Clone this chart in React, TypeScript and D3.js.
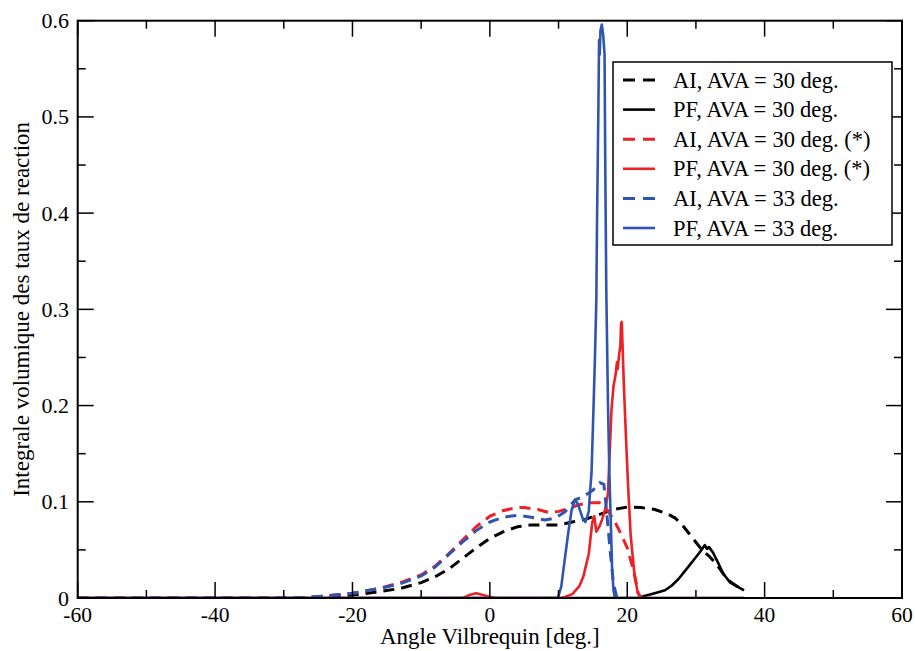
import React from "react";
import * as d3 from "d3";

type Pt = [number, number];

const xTicksMajor = [-60, -40, -20, 0, 20, 40, 60];
const xTicksMinor = [-50, -30, -10, 10, 30, 50];
const yTicksMajor = [0, 0.1, 0.2, 0.3, 0.4, 0.5, 0.6];
const yTicksMinor = [0.05, 0.15, 0.25, 0.35, 0.45, 0.55];
const yTickLabels = ["0", "0.1", "0.2", "0.3", "0.4", "0.5", "0.6"];

const aiAva30: Pt[] = [
  [-60, 0], [-30, 0], [-25, 0.001], [-20, 0.003], [-16, 0.0066], [-13, 0.010], [-10, 0.016],
  [-8, 0.022], [-6, 0.030], [-4, 0.041], [-2, 0.052], [0, 0.062], [2, 0.069], [4, 0.074],
  [6, 0.076], [8, 0.076], [10, 0.076], [12, 0.079], [14, 0.082], [16, 0.087], [18, 0.092],
  [20, 0.0945], [22, 0.094], [24, 0.092], [26, 0.087], [27, 0.083], [28, 0.076], [29, 0.067],
  [30, 0.058], [31, 0.049], [32, 0.043], [33, 0.035], [34, 0.025], [35, 0.017], [36, 0.012], [37, 0.009],
];

const pfAva30: Pt[] = [
  [-60, 0], [21.5, 0], [22.5, 0.002], [24, 0.005], [25.5, 0.008], [26.5, 0.013], [27.5, 0.020],
  [28.5, 0.029], [29.5, 0.038], [30.5, 0.047], [31, 0.052], [31.3, 0.055], [31.6, 0.051],
  [31.9, 0.053], [32.5, 0.047], [33.2, 0.037], [34, 0.025], [35, 0.016], [36, 0.012], [37, 0.008],
];

const aiAva30s: Pt[] = [
  [-60, 0], [-28, 0], [-24, 0.002], [-20, 0.005], [-16, 0.010], [-13, 0.016], [-10, 0.024],
  [-8, 0.033], [-6, 0.046], [-4, 0.060], [-2, 0.074], [0, 0.085], [2, 0.091], [4, 0.094],
  [5, 0.094], [7, 0.092], [8.5, 0.089], [10, 0.090], [11.5, 0.093], [13, 0.097], [14.5, 0.099],
  [16, 0.099], [17, 0.092], [18, 0.082], [19, 0.068], [20, 0.052], [20.9, 0.029], [21.6, 0.005], [22, 0],
];

const pfAva30s: Pt[] = [
  [-60, 0], [-4, 0], [-3, 0.003], [-2, 0.005], [-1, 0.003], [0, 0.001], [1, 0], [10.5, 0],
  [12, 0.004], [13, 0.012], [13.6, 0.022], [14.4, 0.046], [14.9, 0.078], [15.2, 0.085],
  [15.5, 0.069], [16, 0.075], [16.3, 0.081], [16.8, 0.092], [17.2, 0.109], [17.4, 0.143],
  [17.7, 0.195], [18.0, 0.22], [18.3, 0.232], [18.5, 0.245], [18.6, 0.238], [18.85, 0.255],
  [19.0, 0.262], [19.1, 0.285], [19.2, 0.287], [19.5, 0.223], [19.8, 0.17], [20.1, 0.12],
  [20.5, 0.065], [21.0, 0.028], [21.5, 0.006], [22, 0], [37, 0],
];

const aiAva33: Pt[] = [
  [-60, 0], [-28, 0], [-24, 0.002], [-20, 0.005], [-16, 0.010], [-13, 0.015], [-10, 0.023],
  [-8, 0.032], [-6, 0.045], [-4, 0.058], [-2, 0.070], [0, 0.079], [2, 0.084], [4, 0.086],
  [6, 0.084], [8, 0.081], [9.5, 0.083], [11, 0.090], [12.4, 0.102], [13.5, 0.105], [15, 0.112],
  [16, 0.120], [16.6, 0.118], [17, 0.09], [17.5, 0.05], [18, 0.015], [18.5, 0],
];

const pfAva33: Pt[] = [
  [-60, 0], [9.9, 0], [10.4, 0.012], [10.7, 0.029], [11.4, 0.067], [11.9, 0.0915], [12.4, 0.102],
  [12.8, 0.098], [13.1, 0.0915], [13.5, 0.083], [13.9, 0.079], [14.2, 0.085], [14.4, 0.09],
  [14.6, 0.112], [14.8, 0.13], [15.1, 0.2], [15.3, 0.25], [15.5, 0.31], [15.6, 0.39], [15.8, 0.51],
  [15.9, 0.58], [16.0, 0.565], [16.1, 0.59], [16.3, 0.596], [16.5, 0.585], [16.7, 0.565],
  [16.8, 0.45], [16.95, 0.32], [17.2, 0.2], [17.4, 0.13], [17.6, 0.08], [17.8, 0.03], [18.0, 0.008],
  [18.2, 0], [37, 0],
];

const seriesNames = [
  "AI, AVA = 30 deg.",
  "PF, AVA = 30 deg.",
  "AI, AVA = 30 deg. (*)",
  "PF, AVA = 30 deg. (*)",
  "AI, AVA = 33 deg.",
  "PF, AVA = 33 deg.",
];
const seriesData = [aiAva30, pfAva30, aiAva30s, pfAva30s, aiAva33, pfAva33];
const seriesColors = ["#000000", "#000000", "#ee1f25", "#ee1f25", "#2f55b0", "#2f55b0"];
const seriesDashed = [true, false, true, false, true, false];

const W = 915;
const H = 651;
const L = 77.7, R = 902, T = 20.7, B = 598;
const FONT = "'Liberation Serif', 'Times New Roman', serif";

export default function App() {
  const x = d3.scaleLinear().domain([-60, 60]).range([L, R]);
  const y = d3.scaleLinear().domain([0, 0.6]).range([B, T]);
  const line = d3.line<Pt>().x((d) => x(d[0])).y((d) => y(d[1]));

  const legX = 613, legY = 62, legW = 279, legH = 183;
  const rowY0 = 80, rowDy = 29.6;

  return (
    <svg width={W} height={H} style={{ position: "absolute", left: 0, top: 0, background: "#fff" }}
      fontFamily={FONT}>
      <rect x={0} y={0} width={W} height={H} fill="#fff" />
      <defs>
        <clipPath id="plot">
          <rect x={L} y={T - 2} width={R - L} height={B - T + 2} />
        </clipPath>
      </defs>
      <g clipPath="url(#plot)">
        {seriesData.map((d, i) => (
          <path key={i} d={line(d) || ""} fill="none" stroke={seriesColors[i]}
            strokeWidth={seriesDashed[i] ? 3 : 2.6}
            strokeDasharray={seriesDashed[i] ? "11,7" : undefined}
            strokeLinejoin="round" />
        ))}
      </g>
      {/* frame */}
      <rect x={L} y={T} width={R - L} height={B - T} fill="none" stroke="#000" strokeWidth={2} />
      {/* x ticks */}
      {xTicksMajor.map((t) => (
        <g key={"xm" + t}>
          <line x1={x(t)} x2={x(t)} y1={B} y2={B - 16} stroke="#000" strokeWidth={1.5} />
          <line x1={x(t)} x2={x(t)} y1={T} y2={T + 16} stroke="#000" strokeWidth={1.5} />
          <text x={x(t)} y={622} textAnchor="middle" fontSize={21.5} fill="#000">{t}</text>
        </g>
      ))}
      {xTicksMinor.map((t) => (
        <g key={"xn" + t}>
          <line x1={x(t)} x2={x(t)} y1={B} y2={B - 8} stroke="#000" strokeWidth={1.5} />
          <line x1={x(t)} x2={x(t)} y1={T} y2={T + 8} stroke="#000" strokeWidth={1.5} />
        </g>
      ))}
      {/* y ticks */}
      {yTicksMajor.map((t, i) => (
        <g key={"ym" + t}>
          <line x1={L} x2={L + 16} y1={y(t)} y2={y(t)} stroke="#000" strokeWidth={1.5} />
          <line x1={R} x2={R - 16} y1={y(t)} y2={y(t)} stroke="#000" strokeWidth={1.5} />
          <text x={69} y={y(t) + 7.5} textAnchor="end" fontSize={22} fill="#000">{yTickLabels[i]}</text>
        </g>
      ))}
      {yTicksMinor.map((t) => (
        <g key={"yn" + t}>
          <line x1={L} x2={L + 8} y1={y(t)} y2={y(t)} stroke="#000" strokeWidth={1.5} />
          <line x1={R} x2={R - 8} y1={y(t)} y2={y(t)} stroke="#000" strokeWidth={1.5} />
        </g>
      ))}
      {/* axis labels */}
      <text x={(L + R) / 2} y={644} textAnchor="middle" fontSize={23} fill="#000">Angle Vilbrequin [deg.]</text>
      <text transform={`translate(29, ${(T + B) / 2}) rotate(-90)`} textAnchor="middle" fontSize={23} fill="#000">
        Integrale volumique des taux de reaction
      </text>
      {/* legend */}
      <rect x={legX} y={legY} width={legW} height={legH} fill="#fff" stroke="#000" strokeWidth={1.5} />
      {seriesNames.map((n, i) => (
        <g key={"lg" + i}>
          <line x1={623} x2={655} y1={rowY0 + i * rowDy} y2={rowY0 + i * rowDy}
            stroke={seriesColors[i]} strokeWidth={seriesDashed[i] ? 3 : 2.6}
            strokeDasharray={seriesDashed[i] ? "12,8" : undefined} />
          <text x={673} y={rowY0 + i * rowDy + 7.5} fontSize={22.5} fill="#000">{n}</text>
        </g>
      ))}
    </svg>
  );
}
